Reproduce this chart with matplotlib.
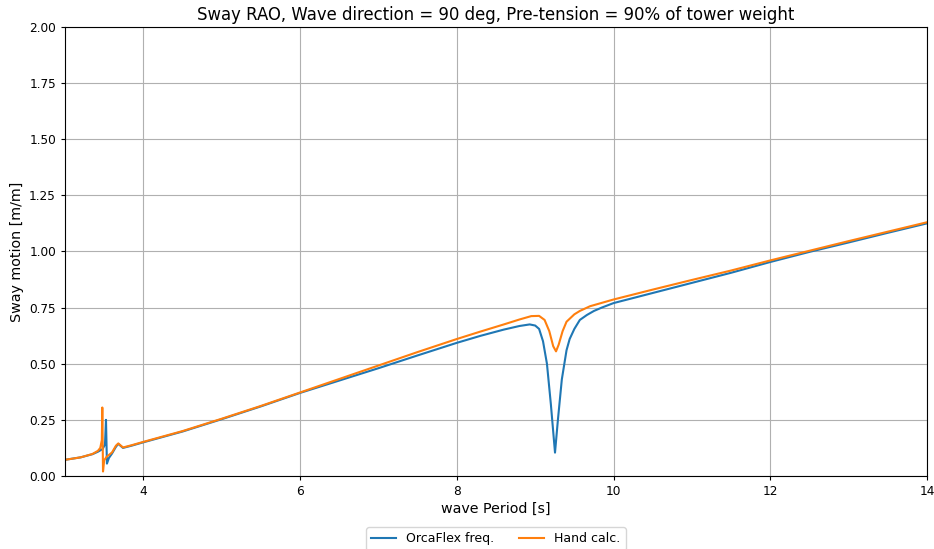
import matplotlib
matplotlib.use('Agg')
import matplotlib.pyplot as plt

# OrcaFlex frequency-domain sway RAO
period_orca = [3.0, 3.2, 3.35, 3.42, 3.48, 3.51, 3.523, 3.535, 3.56, 3.60, 3.65, 3.68, 3.74, 3.85,
               4.0, 4.5, 5.0, 5.5, 6.0, 6.5, 7.0, 7.5, 8.0, 8.3, 8.6, 8.8, 8.93, 9.0, 9.05, 9.10,
               9.15, 9.20, 9.253, 9.29, 9.34, 9.40, 9.44, 9.50, 9.57, 9.66, 9.75, 9.85, 10.0, 10.5,
               11.0, 11.5, 12.0, 12.5, 13.0, 13.5, 14.0]
rao_orca = [0.072, 0.083, 0.097, 0.108, 0.12, 0.14, 0.25, 0.055, 0.08, 0.10, 0.13, 0.143, 0.125, 0.135,
            0.15, 0.198, 0.253, 0.31, 0.37, 0.425, 0.48, 0.537, 0.593, 0.624, 0.652, 0.668, 0.675, 0.67,
            0.655, 0.60, 0.50, 0.32, 0.104, 0.25, 0.43, 0.56, 0.61, 0.655, 0.695, 0.717, 0.735, 0.75,
            0.77, 0.815, 0.86, 0.905, 0.953, 0.998, 1.04, 1.083, 1.125]

# hand calculation
period_hand = [3.0, 3.2, 3.35, 3.42, 3.45, 3.47, 3.476, 3.485, 3.50, 3.53, 3.60, 3.65, 3.68, 3.74, 3.85,
               4.0, 4.5, 5.0, 5.5, 6.0, 6.5, 7.0, 7.5, 8.0, 8.3, 8.6, 8.8, 8.95, 9.05, 9.12, 9.18,
               9.23, 9.266, 9.30, 9.35, 9.40, 9.50, 9.57, 9.7, 10.0, 10.5, 11.0, 11.5, 12.0, 12.5,
               13.0, 13.5, 14.0]
rao_hand = [0.072, 0.083, 0.098, 0.112, 0.125, 0.16, 0.305, 0.02, 0.07, 0.085, 0.105, 0.135, 0.145, 0.127,
            0.137, 0.152, 0.20, 0.255, 0.312, 0.372, 0.432, 0.492, 0.552, 0.61, 0.643, 0.675, 0.697,
            0.712, 0.713, 0.695, 0.645, 0.578, 0.555, 0.585, 0.645, 0.687, 0.720, 0.735, 0.756, 0.786,
            0.83, 0.873, 0.915, 0.96, 1.003, 1.046, 1.088, 1.13]

fig = plt.figure(figsize=(9.34, 5.49), dpi=100)
ax = fig.add_axes([0.0696, 0.133, 0.9229, 0.818])
ax.plot(period_orca, rao_orca, color='#1f77b4', lw=1.5, label='OrcaFlex freq.')
ax.plot(period_hand, rao_hand, color='#ff7f0e', lw=1.5, label='Hand calc.')
ax.set_xlim(3, 14)
ax.set_ylim(0, 2)
ax.set_xticks([4, 6, 8, 10, 12, 14])
ax.set_yticks([0, 0.25, 0.5, 0.75, 1.0, 1.25, 1.5, 1.75, 2.0])
ax.tick_params(labelsize=8.7, length=3)
ax.grid(True)
ax.set_xlabel('wave Period [s]', fontsize=10.3, labelpad=3)
ax.set_ylabel('Sway motion [m/m]', fontsize=10.3)
ax.set_title('Sway RAO, Wave direction = 90 deg, Pre-tension = 90% of tower weight', fontsize=11.9, pad=5)
ax.legend(loc='upper center', bbox_to_anchor=(0.5, -0.10), ncol=2, fontsize=9)
fig.savefig('out.png', dpi=100)
